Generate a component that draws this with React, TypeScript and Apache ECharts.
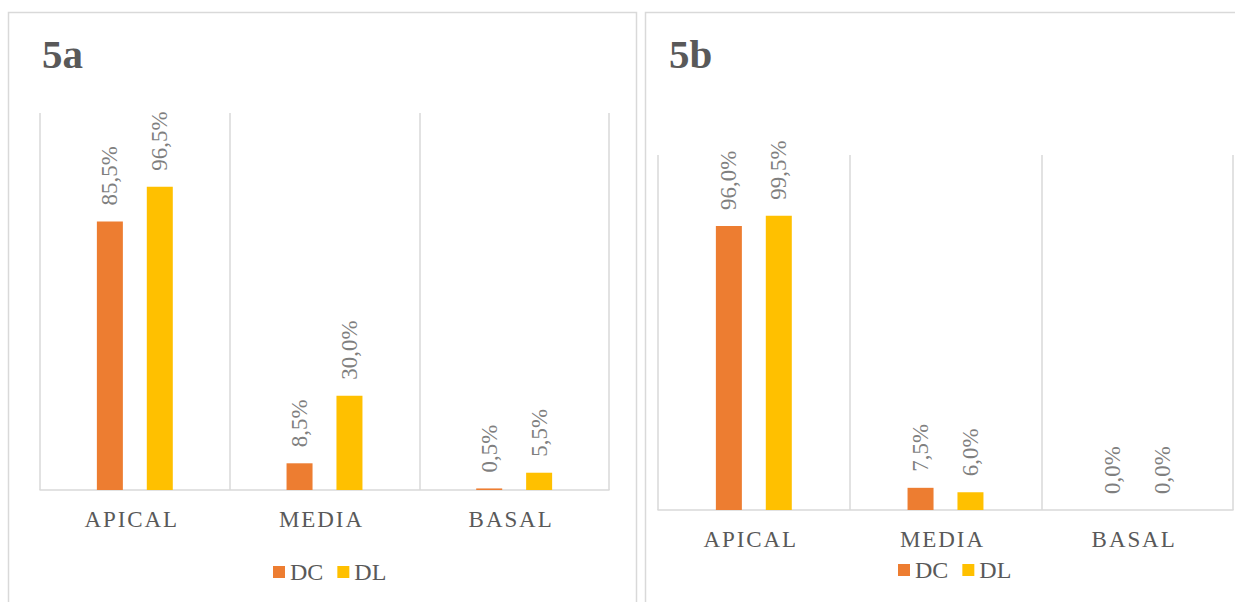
import React, { useEffect, useRef } from "react";
import * as echarts from "echarts";

const categories = ["APICAL", "MEDIA", "BASAL"];
const seriesNames = ["DC", "DL"];
const dc5a = [85.5, 8.5, 0.5];
const dl5a = [96.5, 30.0, 5.5];
const dc5b = [96.0, 7.5, 0.0];
const dl5b = [99.5, 6.0, 0.0];
const titles = ["5a", "5b"];

const FONT = "'Liberation Serif', 'Times New Roman', serif";
const ORANGE = "#ED7D31";
const YELLOW = "#FFC000";
const GRID_COLOR = "#d9d9d9";

const spaced = (s: string) => s.split("").join("\u200A");
const fmt = (v: number) => v.toFixed(1).replace(".", ",") + "%";

export default function App() {
  const ref = useRef<HTMLDivElement>(null);
  useEffect(() => {
    if (!ref.current) return;
    const chart = echarts.init(ref.current, null, { renderer: "svg" });

    const grids = [
      { left: 40, width: 569, top: 113, height: 377 },
      { left: 658, width: 575, top: 155, height: 355 },
    ];

    const xAxis = grids.map((_, i) => ({
      type: "category",
      gridIndex: i,
      data: categories,
      axisTick: { show: false },
      axisLine: { lineStyle: { color: GRID_COLOR, width: 1.5 } },
      splitLine: { show: true, lineStyle: { color: GRID_COLOR, width: 1.5 } },
      axisLabel: {
        color: "#595959",
        fontFamily: FONT,
        fontSize: 23,
        margin: 18,
        padding: [0, 8, 0, 0],
        formatter: (v: string) => spaced(v),
      },
    }));

    const yAxis = grids.map((_, i) => ({
      type: "value",
      gridIndex: i,
      min: 0,
      max: 120,
      show: false,
      splitLine: { show: false },
    }));

    const label = {
      show: true,
      position: "top",
      rotate: 90,
      align: "left",
      verticalAlign: "middle",
      distance: 16,
      color: "#7f7f7f",
      fontFamily: FONT,
      fontSize: 23,
      formatter: (p: any) => fmt(p.value),
    };

    const mkSeries = (name: string, data: number[], idx: number, color: string) => ({
      type: "bar",
      name,
      xAxisIndex: idx,
      yAxisIndex: idx,
      data,
      barWidth: 26,
      barGap: "92%",
      itemStyle: { color },
      label,
    });

    const series = [
      mkSeries(seriesNames[0], dc5a, 0, ORANGE),
      mkSeries(seriesNames[1], dl5a, 0, YELLOW),
      mkSeries(seriesNames[0], dc5b, 1, ORANGE),
      mkSeries(seriesNames[1], dl5b, 1, YELLOW),
    ];

    const legendBase = {
      data: seriesNames,
      icon: "rect",
      itemWidth: 12,
      itemHeight: 12,
      itemGap: 14,
      textStyle: { color: "#595959", fontFamily: FONT, fontSize: 24 },
      selectedMode: false,
    };

    chart.setOption({
      animation: false,
      backgroundColor: "#ffffff",
      grid: grids,
      xAxis,
      yAxis,
      series,
      legend: [
        { ...legendBase, left: 268, top: 555 },
        { ...legendBase, left: 893, top: 553 },
      ],
      graphic: [
        {
          type: "rect",
          shape: { x: 8.5, y: 12.5, width: 628, height: 640 },
          style: { fill: "none", stroke: GRID_COLOR, lineWidth: 1.5 },
          z: -1,
        },
        {
          type: "rect",
          shape: { x: 645.5, y: 12.5, width: 640, height: 640 },
          style: { fill: "none", stroke: GRID_COLOR, lineWidth: 1.5 },
          z: -1,
        },
        {
          type: "text",
          x: 42,
          y: 54,
          style: {
            text: titles[0],
            fill: "#595959",
            font: `bold 41px ${FONT}`,
            verticalAlign: "middle",
          },
        },
        {
          type: "text",
          x: 669,
          y: 54,
          style: {
            text: titles[1],
            fill: "#595959",
            font: `bold 41px ${FONT}`,
            verticalAlign: "middle",
          },
        },
      ],
    });
    return () => chart.dispose();
  }, []);
  return (
    <div
      ref={ref}
      style={{ position: "fixed", left: 0, top: 0, width: 1235, height: 602 }}
    />
  );
}
